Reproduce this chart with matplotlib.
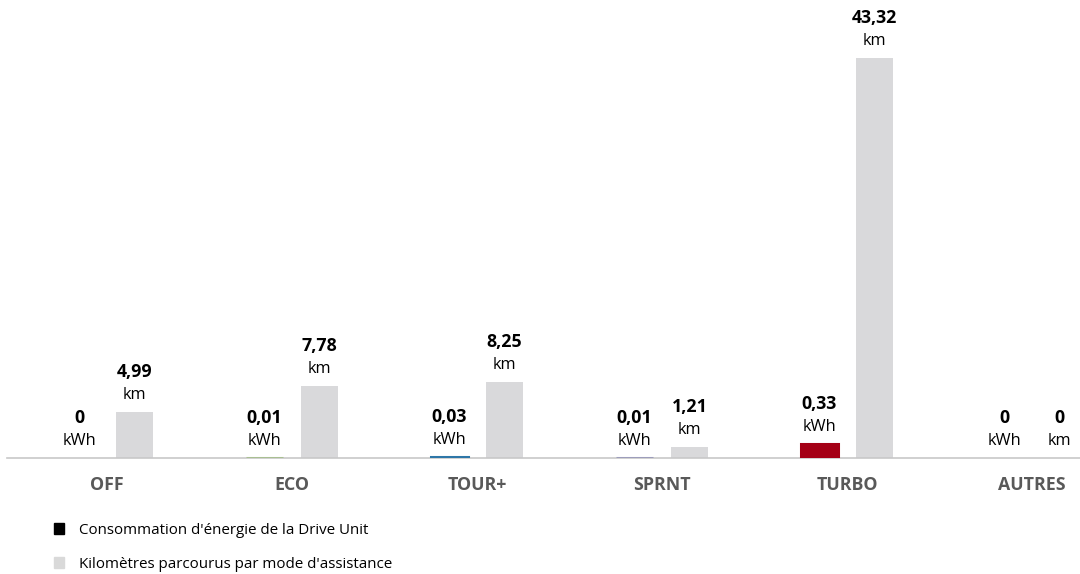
import numpy as np
import matplotlib.pyplot as plt
from matplotlib.patches import Patch

plt.rcParams['font.family'] = ['Open Sans', 'DejaVu Sans']

# data
modes = ['OFF', 'ECO', 'TOUR+', 'SPRNT', 'TURBO', 'AUTRES']
kwh = [0, 0.01, 0.03, 0.01, 0.33, 0]
km = [4.99, 7.78, 8.25, 1.21, 43.32, 0]
kwh_colors = ['#808080', '#a9bf92', '#2e77a8', '#9d9dbb', '#a50016', '#808080']
km_color = '#d9d9db'

fig = plt.figure(figsize=(10.8, 5.74), dpi=100)
ax = fig.add_axes([7 / 1080, 116 / 574, 1073 / 1080, 458 / 574])
ax2 = ax.twinx()

x = np.arange(len(modes))
w = 0.2
off = 0.15

ax.bar(x + off, km, w, color=km_color, zorder=2)
# edge so the tiny kWh values still show as a thin line above the axis
ax2.bar(x - off, kwh, w, color=kwh_colors,
        edgecolor=[c if v > 0 else 'none' for c, v in zip(kwh_colors, kwh)],
        linewidth=2.2, zorder=3)

ax.set_xlim(-0.54, 5.26)
ax.set_ylim(0, 49.6)
ax2.set_ylim(0, 10.8)

def fmt(v):
    return ('%.2f' % v).replace('.', ',') if v != 0 else '0'

for i in range(len(modes)):
    ax2.annotate(fmt(kwh[i]), (x[i] - off, kwh[i]), xytext=(0, 40), textcoords='offset pixels',
                 ha='center', va='center', fontsize=12.8, fontweight='bold', color='black')
    ax2.annotate('kWh', (x[i] - off, kwh[i]), xytext=(0, 17), textcoords='offset pixels',
                 ha='center', va='center', fontsize=11.8, color='black')
    ax.annotate(fmt(km[i]), (x[i] + off, km[i]), xytext=(0, 40), textcoords='offset pixels',
                ha='center', va='center', fontsize=12.8, fontweight='bold', color='black')
    ax.annotate('km', (x[i] + off, km[i]), xytext=(0, 17), textcoords='offset pixels',
                ha='center', va='center', fontsize=11.8, color='black')

for a in (ax, ax2):
    for s in ['top', 'right', 'left']:
        a.spines[s].set_visible(False)
    a.set_yticks([])
ax2.spines['bottom'].set_visible(False)
ax.spines['bottom'].set_color('#c8c8c8')
ax.spines['bottom'].set_linewidth(1.2)

ax.set_xticks(x)
ax.set_xticklabels(modes, fontsize=12.8, fontweight='bold', color='#595959')
ax.tick_params(axis='x', length=0, pad=13)

handles = [Patch(color='black'), Patch(color='#d9d9d9')]
labels = ["Consommation d'énergie de la Drive Unit", "Kilomètres parcourus par mode d'assistance"]
fig.legend(handles, labels, loc='upper left', bbox_to_anchor=(40 / 1080, 1 - 509 / 574),
           frameon=False, fontsize=10.9, handlelength=0.7, handleheight=0.7,
           handletextpad=1.0, labelspacing=1.25)

plt.savefig('out.png', dpi=100)
